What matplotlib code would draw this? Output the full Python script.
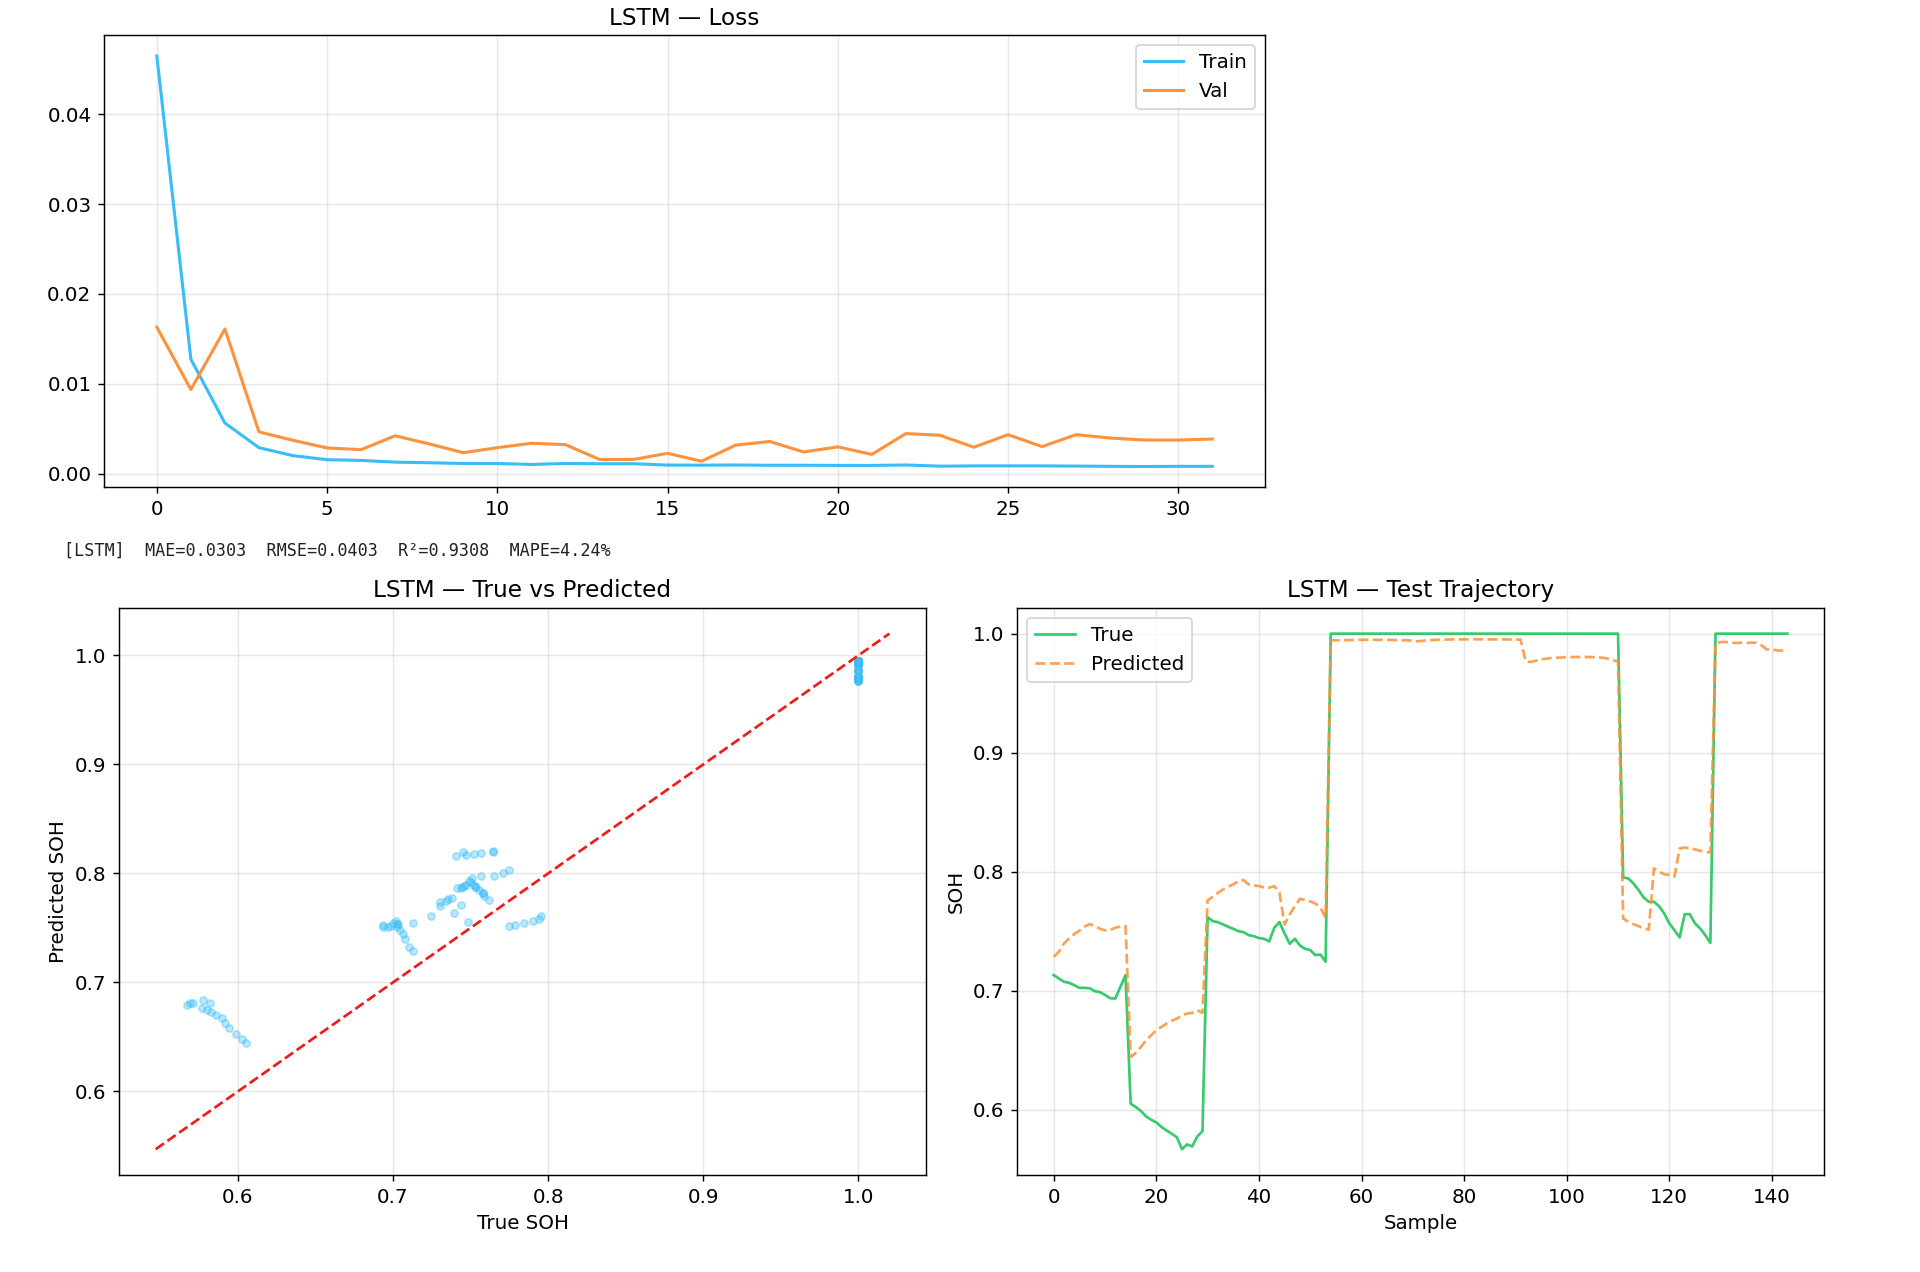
#!/usr/bin/env python3
"""
LSTM training summary: loss curves, true-vs-predicted scatter and test trajectory.
Saves out.png (1920x1272).
"""

import matplotlib
matplotlib.use("Agg")
import matplotlib.pyplot as plt

# ---- data ------------------------------------------------------------------
train_loss = [0.0465, 0.01273, 0.00562, 0.00288, 0.00199, 0.00154, 0.00146, 0.00127,
              0.00120, 0.00112, 0.00112, 0.00101, 0.00112, 0.00109, 0.00109, 0.00094,
              0.00093, 0.00095, 0.00092, 0.00092, 0.00090, 0.00090, 0.00095, 0.00082,
              0.00085, 0.00085, 0.00085, 0.00083, 0.00080, 0.00078, 0.00080, 0.00080]
val_loss = [0.01630, 0.00936, 0.01610, 0.00464, 0.00370, 0.00285, 0.00266, 0.00420,
            0.00330, 0.00232, 0.00288, 0.00337, 0.00322, 0.00157, 0.00157, 0.00225,
            0.00137, 0.00316, 0.00357, 0.00240, 0.00297, 0.00213, 0.00445, 0.00426,
            0.00293, 0.00433, 0.00300, 0.00433, 0.00395, 0.00373, 0.00373, 0.00384]

soh_true = [
    # samples 0-14
    0.7132, 0.7104, 0.7076, 0.7067, 0.7048, 0.7025, 0.7025, 0.7022, 0.6997, 0.6989,
    0.6966, 0.6938, 0.6935, 0.7034, 0.7132,
    # 15-29
    0.6052, 0.6024, 0.5990, 0.5945, 0.5917, 0.5895, 0.5856, 0.5827, 0.5799, 0.5771,
    0.5670, 0.5710, 0.5693, 0.5777, 0.5822,
    # 30-53
    0.7620, 0.7585, 0.7577, 0.7557, 0.7538, 0.7521, 0.7501, 0.7493, 0.7468, 0.7459,
    0.7443, 0.7437, 0.7415, 0.7530, 0.7577, 0.7482, 0.7395, 0.7437, 0.7381, 0.7353,
    0.7342, 0.7300, 0.7305, 0.7244,
    # 54-110
    1.0, 1.0, 1.0, 1.0, 1.0, 1.0, 1.0, 1.0, 1.0, 1.0,
    1.0, 1.0, 1.0, 1.0, 1.0, 1.0, 1.0, 1.0, 1.0, 1.0,
    1.0, 1.0, 1.0, 1.0, 1.0, 1.0, 1.0, 1.0, 1.0, 1.0,
    1.0, 1.0, 1.0, 1.0, 1.0, 1.0, 1.0, 1.0, 1.0, 1.0,
    1.0, 1.0, 1.0, 1.0, 1.0, 1.0, 1.0, 1.0, 1.0, 1.0,
    1.0, 1.0, 1.0, 1.0, 1.0, 1.0, 1.0,
    # 111-128
    0.7952, 0.7944, 0.7902, 0.7846, 0.7784, 0.7748, 0.7748, 0.7711, 0.7650, 0.7566,
    0.7510, 0.7448, 0.7644, 0.7644, 0.7566, 0.7524, 0.7468, 0.7403,
    # 129-143
    1.0, 1.0, 1.0, 1.0, 1.0, 1.0, 1.0, 1.0, 1.0, 1.0,
    1.0, 1.0, 1.0, 1.0, 1.0,
]

soh_pred = [
    # samples 0-14
    0.7286, 0.7328, 0.7398, 0.7440, 0.7477, 0.7505, 0.7539, 0.7561, 0.7544, 0.7522,
    0.7508, 0.7510, 0.7530, 0.7539, 0.7544,
    # 15-29
    0.6445, 0.6478, 0.6529, 0.6585, 0.6627, 0.6669, 0.6697, 0.6725, 0.6748, 0.6767,
    0.6795, 0.6809, 0.6815, 0.6837, 0.6815,
    # 30-53
    0.7760, 0.7790, 0.7822, 0.7852, 0.7874, 0.7894, 0.7922, 0.7930, 0.7894, 0.7885,
    0.7880, 0.7868, 0.7866, 0.7880, 0.7824, 0.7557, 0.7641, 0.7711, 0.7773, 0.7762,
    0.7751, 0.7734, 0.7697, 0.7613,
    # 54-91
    0.9944, 0.9944, 0.9945, 0.9946, 0.9946, 0.9947, 0.9948, 0.9949, 0.9949, 0.9948,
    0.9948, 0.9947, 0.9947, 0.9946, 0.9945, 0.9944, 0.9940, 0.9936, 0.9940, 0.9945,
    0.9947, 0.9949, 0.9950, 0.9951, 0.9952, 0.9952, 0.9952, 0.9952, 0.9953, 0.9953,
    0.9953, 0.9952, 0.9952, 0.9952, 0.9952, 0.9951, 0.9951, 0.9950,
    # 92-110
    0.9768, 0.9762, 0.9773, 0.9784, 0.9790, 0.9796, 0.9798, 0.9800, 0.9804, 0.9804,
    0.9804, 0.9804, 0.9804, 0.9803, 0.9800, 0.9798, 0.9790, 0.9776, 0.9768,
    # 111-128
    0.7608, 0.7580, 0.7560, 0.7543, 0.7524, 0.7515, 0.8028, 0.8000, 0.7980, 0.7972,
    0.7958, 0.8196, 0.8204, 0.8196, 0.8188, 0.8176, 0.8168, 0.8162,
    # 129-143
    0.9916, 0.9930, 0.9930, 0.9924, 0.9922, 0.9924, 0.9922, 0.9924, 0.9924, 0.9900,
    0.9868, 0.9866, 0.9860, 0.9857, 0.9854,
]

metrics_line = "[LSTM]  MAE=0.0303  RMSE=0.0403  R\u00b2=0.9308  MAPE=4.24%"

TRAIN_C = "#38bdf8"
VAL_C = "#fb923c"
TRUE_C = "#22c55e"
PRED_C = "#fb923c"

DPI = 130


def setup_plot_style() -> None:
    plt.rcParams['font.family'] = ['DejaVu Sans']
    plt.rcParams['font.size'] = 11
    plt.rcParams['axes.titlesize'] = 12.8
    plt.rcParams['axes.labelsize'] = 11
    plt.rcParams['legend.fontsize'] = 11


def plot_loss(ax) -> None:
    epochs = list(range(len(train_loss)))
    ax.plot(epochs, train_loss, color=TRAIN_C, lw=1.7, label="Train")
    ax.plot(epochs, val_loss, color=VAL_C, lw=1.7, label="Val")
    ax.set_title("LSTM \u2014 Loss")
    ax.set_yticks([0.0, 0.01, 0.02, 0.03, 0.04])
    ax.set_xticks([0, 5, 10, 15, 20, 25, 30])
    ax.grid(alpha=0.3)
    ax.legend(loc="upper right")


def plot_scatter(ax) -> None:
    ax.scatter(soh_true, soh_pred, s=16, alpha=0.35, color=TRAIN_C)
    lo = min(min(soh_true), min(soh_pred)) - 0.02
    hi = max(max(soh_true), max(soh_pred)) + 0.02
    ax.plot([lo, hi], [lo, hi], "--", color="#ef1c1c", lw=1.5)
    ax.set_title("LSTM \u2014 True vs Predicted")
    ax.set_xlabel("True SOH")
    ax.set_ylabel("Predicted SOH")
    ax.set_xticks([0.6, 0.7, 0.8, 0.9, 1.0])
    ax.set_yticks([0.6, 0.7, 0.8, 0.9, 1.0])
    ax.grid(alpha=0.3)


def plot_trajectory(ax) -> None:
    samples = list(range(len(soh_true)))
    ax.plot(samples, soh_true, color=TRUE_C, lw=1.5, alpha=0.9, label="True")
    ax.plot(samples, soh_pred, "--", color=PRED_C, lw=1.5, alpha=0.85, label="Predicted")
    ax.set_title("LSTM \u2014 Test Trajectory")
    ax.set_xlabel("Sample")
    ax.set_ylabel("SOH")
    ax.set_xticks([0, 20, 40, 60, 80, 100, 120, 140])
    ax.set_yticks([0.6, 0.7, 0.8, 0.9, 1.0])
    ax.grid(alpha=0.3)
    ax.legend(loc="upper left")


def main() -> None:
    setup_plot_style()
    fig = plt.figure(figsize=(1920 / DPI, 1272 / DPI), dpi=DPI)

    # axes placed to match the reference layout (fractions of the figure)
    ax_loss = fig.add_axes([0.0542, 0.6171, 0.6047, 0.3550])
    ax_sc = fig.add_axes([0.0620, 0.0763, 0.4203, 0.4458])
    ax_tr = fig.add_axes([0.5297, 0.0763, 0.4203, 0.4458])

    plot_loss(ax_loss)
    fig.text(0.0333, 0.567, metrics_line, family="DejaVu Sans Mono",
             fontsize=9.3, va="center", ha="left", color="#222222")
    plot_scatter(ax_sc)
    plot_trajectory(ax_tr)

    fig.savefig("out.png", dpi=DPI, facecolor="white")
    plt.close(fig)


if __name__ == "__main__":
    main()
